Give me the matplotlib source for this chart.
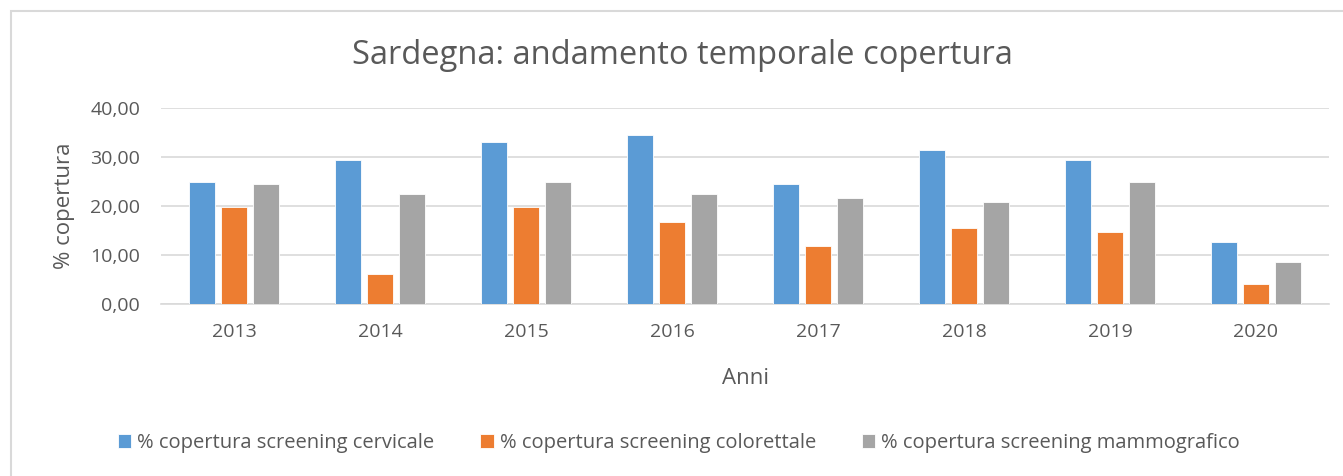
import matplotlib
matplotlib.use("Agg")
import matplotlib.pyplot as plt
import numpy as np
from matplotlib.patches import Rectangle

years = ["2013", "2014", "2015", "2016", "2017", "2018", "2019", "2020"]
cervicale = [24.9, 29.4, 33.1, 34.4, 24.5, 31.4, 29.4, 12.7]
colorettale = [19.7, 6.1, 19.7, 16.7, 11.8, 15.5, 14.7, 4.1]
mammografico = [24.5, 22.4, 24.9, 22.4, 21.6, 20.8, 24.9, 8.6]
series_labels = ["% copertura screening cervicale",
                 "% copertura screening colorettale",
                 "% copertura screening mammografico"]
colors = ["#5B9BD5", "#ED7D31", "#A5A5A5"]

plt.rcParams['font.family'] = ['Open Sans', 'DejaVu Sans']
txt = "#595959"

fig = plt.figure(figsize=(13.43, 4.76), dpi=100)
ax = fig.add_axes([161/1343, 1-304/476, (1329-161)/1343, (304-108)/476])

x = np.arange(len(years))
w = 0.178
off = 0.222
for i, (vals, lab, c) in enumerate(zip([cervicale, colorettale, mammografico], series_labels, colors)):
    ax.bar(x + (i-1)*off, vals, width=w, color=c, label=lab, edgecolor="white", linewidth=0.6, zorder=3)

ax.set_xlim(-0.5, len(years)-0.5)
ax.set_ylim(0, 40)
ax.set_yticks([0, 10, 20, 30, 40])
ax.set_yticklabels([f"{v:.2f}".replace(".", ",") for v in [0, 10, 20, 30, 40]])
ax.set_xticks(x)
ax.set_xticklabels(years)
ax.grid(axis="y", color="#D9D9D9", linewidth=1.2, zorder=0)
for s in ["top", "right", "left"]:
    ax.spines[s].set_visible(False)
ax.spines["bottom"].set_color("#D9D9D9")
ax.spines["bottom"].set_linewidth(1.2)
ax.tick_params(axis="both", length=0, colors=txt, labelsize=14)
ax.tick_params(axis="y", pad=15)
ax.tick_params(axis="x", pad=14)

ax.set_ylabel("% copertura", color=txt, fontsize=16, labelpad=11)
ax.set_xlabel("Anni", color=txt, fontsize=16, labelpad=19)

fig.text(682/1343, 1-56/476, "Sardegna: andamento temporale copertura", ha="center", va="center",
         fontsize=23.5, color=txt)

leg = fig.legend(loc="center", bbox_to_anchor=(679/1343, 1-443/476), ncol=3, frameon=False,
                 fontsize=14.5, handlelength=0.65, handleheight=0.65, handletextpad=0.3,
                 columnspacing=2.3)
for t in leg.get_texts():
    t.set_color(txt)

fig.patches.append(Rectangle((11/1343, -0.1), 1.2, 1-11/476+0.1, transform=fig.transFigure,
                             fill=False, edgecolor="#D9D9D9", linewidth=1.5))

fig.savefig("out.png", dpi=100)
